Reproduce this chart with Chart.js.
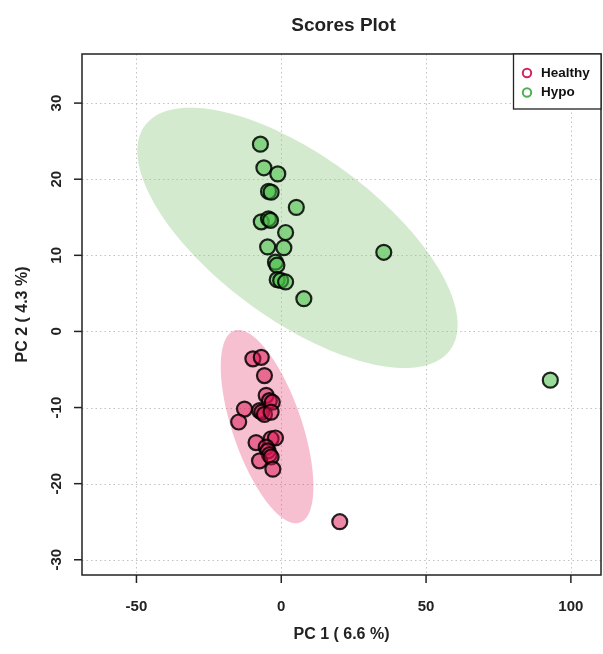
<!DOCTYPE html>
<html>
<head>
<meta charset="utf-8">
<script src="https://cdn.jsdelivr.net/npm/chart.js@4/dist/chart.umd.min.js"></script>
<style>
html,body{margin:0;padding:0;background:#fff;}
canvas{display:block;}
</style>
</head>
<body>
<canvas id="c" width="603" height="654"></canvas>
<script>
// ---- data ----
const groups = ["Healthy", "Hypo"];
const healthyX = [-9.8, -6.9, -5.8, -5.2, -4.1, -3.1, -12.7, -7.5, -6.7, -5.8, -3.5, -14.7, -8.7, -3.5, -2.0, -5.2, -4.6, -4.1, -7.5, -3.5, -2.9, 20.2];
const healthyY = [-3.6, -3.4, -5.8, -8.4, -9.1, -9.3, -10.2, -10.4, -10.6, -10.9, -10.6, -11.9, -14.6, -14.1, -14.0, -15.2, -15.7, -16.2, -17.0, -16.5, -18.1, -25.0];
const hypoX = [-7.2, -6.0, -1.2, -4.4, -3.5, 5.2, -6.9, -4.4, -3.7, 1.5, -4.7, 0.9, -2.0, -1.5, -1.4, -0.2, 1.5, 7.8, 35.4, 92.9];
const hypoY = [24.6, 21.5, 20.7, 18.4, 18.3, 16.3, 14.4, 14.8, 14.6, 13.0, 11.1, 11.0, 9.1, 8.7, 6.8, 6.7, 6.5, 4.3, 10.4, -6.4];
// 95% region ellipses: [Healthy, Hypo]
const ellipseCx = [-4.9, 5.6];
const ellipseCy = [-12.5, 12.3];
const ellipseSx = [16.0, 55.3];
const ellipseSy = [12.7, 17.1];
const ellipseRho = [-0.62, -0.668];
const xTicks = [-50, 0, 50, 100];
const yTicks = [-30, -20, -10, 0, 10, 20, 30];
const titleText = "Scores Plot";
const xTitle = "PC 1 ( 6.6 %)";
const yTitle = "PC 2 ( 4.3 %)";

// ---- styles ----
const pointFill = ["rgba(220,20,80,0.5)", "rgba(70,190,70,0.55)"];
const ellipseFill = ["rgba(228,60,110,0.32)", "rgba(140,200,130,0.38)"];
const legendColor = ["#d0245e", "#4fb04f"];
const FONT = "'Liberation Sans', Arial, sans-serif";

function toPts(xs, ys){ return xs.map((x,i)=>({x:x, y:ys[i]})); }

const plotPlugin = {
  id: 'plotDecor',
  beforeDraw(chart){
    const c = chart.ctx;
    c.save(); c.fillStyle = '#fff'; c.fillRect(0,0,chart.width,chart.height); c.restore();
  },
  beforeDatasetsDraw(chart){
    const c = chart.ctx, a = chart.chartArea, xs = chart.scales.x, ys = chart.scales.y;
    c.save();
    c.beginPath(); c.rect(a.left, a.top, a.right-a.left, a.bottom-a.top); c.clip();
    // grid
    c.strokeStyle = 'rgba(175,175,175,0.75)';
    c.lineWidth = 1;
    c.setLineDash([1.5, 3]);
    xTicks.forEach(v=>{ const p = Math.round(xs.getPixelForValue(v))+0.5; c.beginPath(); c.moveTo(p,a.top); c.lineTo(p,a.bottom); c.stroke(); });
    yTicks.forEach(v=>{ const p = Math.round(ys.getPixelForValue(v))+0.5; c.beginPath(); c.moveTo(a.left,p); c.lineTo(a.right,p); c.stroke(); });
    c.setLineDash([]);
    // ellipses
    for (let g=0; g<groups.length; g++){
      c.beginPath();
      const k = Math.sqrt(1-ellipseRho[g]*ellipseRho[g]);
      for (let i=0;i<=180;i++){
        const t = i/180*Math.PI*2;
        const vx = ellipseCx[g] + ellipseSx[g]*Math.cos(t);
        const vy = ellipseCy[g] + ellipseSy[g]*(ellipseRho[g]*Math.cos(t) + k*Math.sin(t));
        const px = xs.getPixelForValue(vx), py = ys.getPixelForValue(vy);
        if (i===0) c.moveTo(px,py); else c.lineTo(px,py);
      }
      c.closePath();
      c.fillStyle = ellipseFill[g];
      c.fill();
    }
    c.restore();
  },
  afterDatasetsDraw(chart){
    const c = chart.ctx, a = chart.chartArea, xs = chart.scales.x, ys = chart.scales.y;
    c.save();
    // box
    c.strokeStyle = '#222'; c.lineWidth = 1.5;
    c.strokeRect(a.left, a.top, a.right-a.left, a.bottom-a.top);
    // ticks
    c.lineWidth = 1.5; c.strokeStyle = '#222';
    c.fillStyle = '#222';
    c.font = "bold 15px " + FONT;
    c.textAlign = 'center'; c.textBaseline = 'middle';
    xTicks.forEach(v=>{
      const p = xs.getPixelForValue(v);
      c.beginPath(); c.moveTo(p, a.bottom); c.lineTo(p, a.bottom+8); c.stroke();
      c.fillText(String(v), p, a.bottom+32);
    });
    yTicks.forEach(v=>{
      const p = ys.getPixelForValue(v);
      c.beginPath(); c.moveTo(a.left, p); c.lineTo(a.left-8, p); c.stroke();
      c.save(); c.translate(a.left-25, p); c.rotate(-Math.PI/2); c.fillText(String(v), 0, 0); c.restore();
    });
    // titles
    const cx = (a.left+a.right)/2, cy = (a.top+a.bottom)/2;
    c.font = "bold 19px " + FONT;
    c.fillText(titleText, cx + 2, 26);
    c.font = "bold 16px " + FONT;
    c.fillText(xTitle, cx, 635);
    c.save(); c.translate(23, cy); c.rotate(-Math.PI/2); c.fillText(yTitle, 0, 0); c.restore();
    // legend
    const lx = 513.5, ly = a.top, lw = a.right - 513.5, lh = 55;
    c.fillStyle = '#fff'; c.fillRect(lx, ly, lw, lh);
    c.strokeStyle = '#222'; c.lineWidth = 1.3; c.strokeRect(lx, ly, lw, lh);
    c.font = "bold 13.5px " + FONT; c.textAlign = 'left';
    groups.forEach((gname, i)=>{
      const yy = ly + 19 + i*19.5;
      c.beginPath(); c.arc(527, yy, 4.2, 0, Math.PI*2);
      c.strokeStyle = legendColor[i]; c.lineWidth = 2; c.stroke();
      c.fillStyle = '#111'; c.fillText(gname, 541, yy);
    });
    c.restore();
  }
};

new Chart(document.getElementById('c'), {
  type: 'scatter',
  data: {
    datasets: [
      { label: groups[0], data: toPts(healthyX, healthyY), backgroundColor: pointFill[0], borderColor: 'rgba(0,0,0,0.85)', borderWidth: 2.2, pointRadius: 7.5, pointHoverRadius: 7.5 },
      { label: groups[1], data: toPts(hypoX, hypoY), backgroundColor: pointFill[1], borderColor: 'rgba(0,0,0,0.85)', borderWidth: 2.2, pointRadius: 7.5, pointHoverRadius: 7.5 }
    ]
  },
  options: {
    responsive: false,
    animation: false,
    layout: { autoPadding: false, padding: { left: 82, top: 54, right: 2, bottom: 79 } },
    plugins: { legend: { display: false }, title: { display: false }, tooltip: { enabled: false } },
    scales: {
      x: { type: 'linear', display: false, min: -68.8, max: 110.4 },
      y: { type: 'linear', display: false, min: -32.0, max: 36.45 }
    }
  },
  plugins: [plotPlugin]
});
</script>
</body>
</html>
